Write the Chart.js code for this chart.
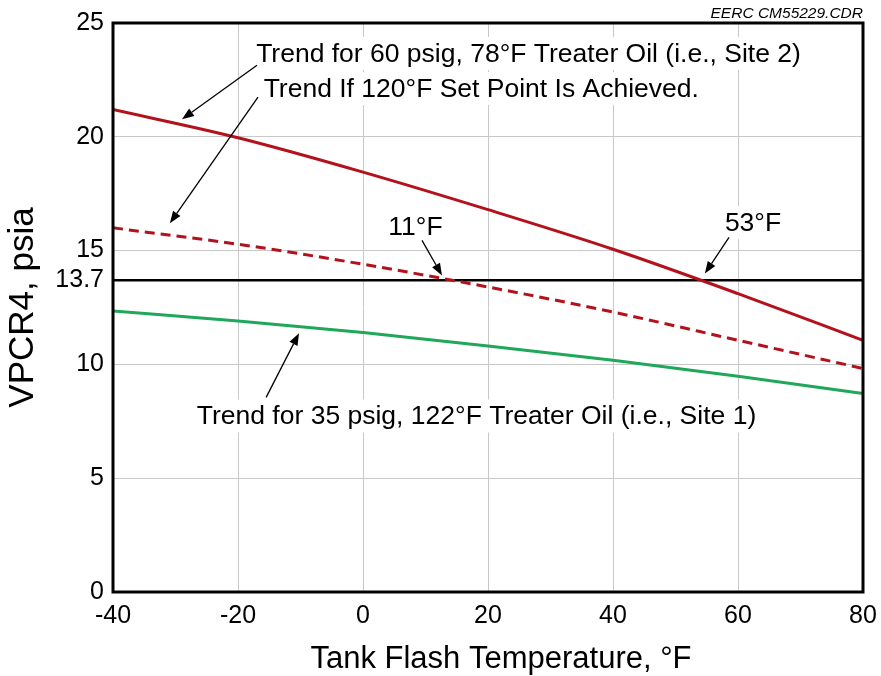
<!DOCTYPE html>
<html>
<head>
<meta charset="utf-8">
<script src="https://cdn.jsdelivr.net/npm/chart.js@4/dist/chart.umd.min.js"></script>
<style>
  html, body { margin: 0; padding: 0; background: #fff; }
</style>
</head>
<body>
<canvas id="myChart" width="881" height="676"></canvas>
<script>
// значения
const temps = [-40, -20, 0, 20, 40, 60, 80];
const site2 = [21.2, 19.96, 18.45, 16.8, 15.06, 13.11, 11.06];
const setPoint = [16.0, 15.28, 14.4, 13.4, 12.3, 11.06, 9.82];
const site1 = [12.35, 11.91, 11.4, 10.81, 10.18, 9.48, 8.72];
const limitValue = 13.7;
const yTicks = [0, 5, 10, 13.7, 15, 20, 25];

const FONT = "'Liberation Sans', Arial, sans-serif";
const xTitle = "Tank Flash Temperature, °F";

// подписи и стрелки в координатах данных
const notes = [
  { text: "Trend for 60 psig, 78°F Treater Oil (i.e., Site 2)", x: -17.1, y: 23.29 },
  { text: "Trend If 120°F Set Point Is Achieved.", x: -15.9, y: 21.75 },
  { text: "11°F", x: 4.05, y: 15.67 },
  { text: "53°F", x: 57.9, y: 15.86 },
  { text: "Trend for 35 psig, 122°F Treater Oil (i.e., Site 1)", x: -26.6, y: 7.36 },
];
const arrows = [
  { from: [-16.96, 23.14], to: [-28.96, 20.77] },
  { from: [-16.8, 21.74], to: [-30.9, 16.2] },
  { from: [9.44, 15.45], to: [12.64, 13.91] },
  { from: [58.56, 15.58], to: [54.7, 13.99] },
  { from: [-15.5, 8.55], to: [-10.24, 11.37] },
];

const toPoints = (ys) => temps.map((t, i) => ({ x: t, y: ys[i] }));

const notesPlugin = {
  id: "notes",
  beforeDatasetsDraw(chart) {
    // белые подложки под текстом
    const { ctx, scales } = chart;
    ctx.save();
    ctx.font = "26.5px " + FONT;
    ctx.fillStyle = "#fff";
    notes.forEach((n) => {
      const px = scales.x.getPixelForValue(n.x);
      const py = scales.y.getPixelForValue(n.y);
      const w = ctx.measureText(n.text).width;
      ctx.fillRect(px - 5, py - 25, w + 10, 33);
    });
    ctx.restore();
  },
  afterDatasetsDraw(chart) {
    const { ctx, scales } = chart;
    ctx.save();
    ctx.font = "26.5px " + FONT;
    ctx.fillStyle = "#000";
    ctx.textBaseline = "alphabetic";
    ctx.textAlign = "left";
    notes.forEach((n) => {
      ctx.fillText(n.text, scales.x.getPixelForValue(n.x), scales.y.getPixelForValue(n.y));
    });

    ctx.strokeStyle = "#000";
    ctx.lineWidth = 1.3;
    arrows.forEach((a) => {
      const x1 = scales.x.getPixelForValue(a.from[0]);
      const y1 = scales.y.getPixelForValue(a.from[1]);
      const x2 = scales.x.getPixelForValue(a.to[0]);
      const y2 = scales.y.getPixelForValue(a.to[1]);
      const ang = Math.atan2(y2 - y1, x2 - x1);
      const len = 12, half = 4.5;
      const bx = x2 - len * Math.cos(ang);
      const by = y2 - len * Math.sin(ang);
      ctx.beginPath();
      ctx.moveTo(x1, y1);
      ctx.lineTo(bx, by);
      ctx.stroke();
      ctx.beginPath();
      ctx.moveTo(x2, y2);
      ctx.lineTo(bx + half * Math.sin(ang), by - half * Math.cos(ang));
      ctx.lineTo(bx - half * Math.sin(ang), by + half * Math.cos(ang));
      ctx.closePath();
      ctx.fill();
    });
    ctx.restore();
  },
  afterDraw(chart) {
    const { ctx, chartArea } = chart;
    ctx.save();
    ctx.strokeStyle = "#000";
    ctx.lineWidth = 3;
    ctx.strokeRect(chartArea.left, chartArea.top, chartArea.right - chartArea.left, chartArea.bottom - chartArea.top);
    ctx.font = "italic 15.5px " + FONT;
    ctx.fillStyle = "#000";
    ctx.textAlign = "right";
    ctx.textBaseline = "alphabetic";
    ctx.fillText("EERC CM55229.CDR", chartArea.right, chartArea.top - 5);
    // подпись оси X (в оригинале чуть сдвинута вправо)
    ctx.font = "31px " + FONT;
    ctx.textAlign = "center";
    ctx.fillText(xTitle, (chartArea.left + chartArea.right) / 2 + 13, chartArea.bottom + 76);
    ctx.restore();
  },
};

const ctx = document.getElementById("myChart");

new Chart(ctx, {
  type: "line",
  data: {
    datasets: [
      {
        label: "Site 2",
        data: toPoints(site2),
        borderColor: "#b3121c",
        borderWidth: 3,
        pointRadius: 0,
        cubicInterpolationMode: "monotone",
      },
      {
        label: "Set point",
        data: toPoints(setPoint),
        borderColor: "#b3121c",
        borderWidth: 3,
        borderDash: [10, 6],
        pointRadius: 0,
        cubicInterpolationMode: "monotone",
      },
      {
        label: "Site 1",
        data: toPoints(site1),
        borderColor: "#1fa75a",
        borderWidth: 3,
        pointRadius: 0,
        cubicInterpolationMode: "monotone",
      },
      {
        label: "13.7",
        data: [
          { x: temps[0], y: limitValue },
          { x: temps[temps.length - 1], y: limitValue },
        ],
        borderColor: "#000",
        borderWidth: 2.5,
        pointRadius: 0,
      },
    ],
  },
  options: {
    responsive: false,
    animation: false,
    devicePixelRatio: 1,
    layout: { padding: { top: 23, right: 18, left: 0, bottom: 0 } },
    plugins: {
      legend: { display: false },
      tooltip: { enabled: false },
    },
    scales: {
      x: {
        type: "linear",
        min: -40,
        max: 80,
        ticks: {
          stepSize: 20,
          color: "#000",
          font: { family: FONT, size: 25 },
          padding: 9,
          maxRotation: 0,
        },
        grid: { color: "#c8c8c8", lineWidth: 1, drawTicks: false },
        border: { display: false },
        title: { display: false },
        afterFit: (s) => {
          s.height = 84;
          s.paddingLeft = 0;
          s.paddingRight = 0;
        },
      },
      y: {
        type: "linear",
        min: 0,
        max: 25,
        afterBuildTicks: (s) => { s.ticks = yTicks.map((v) => ({ value: v })); },
        ticks: {
          color: "#000",
          font: { family: FONT, size: 25 },
          padding: 9,
          callback: (v) => String(v),
        },
        grid: {
          color: (c) => (c.tick && [0, limitValue, 25].includes(c.tick.value) ? "rgba(0,0,0,0)" : "#c8c8c8"),
          lineWidth: 1,
          drawTicks: false,
        },
        border: { display: false },
        title: {
          display: true,
          text: "VPCR4, psia",
          color: "#000",
          font: { family: FONT, size: 35 },
          padding: { top: 2, bottom: 0 },
        },
        afterFit: (s) => {
          s.width = 113;
          s.paddingTop = 0;
          s.paddingBottom = 0;
        },
      },
    },
  },
  plugins: [notesPlugin],
});
</script>
</body>
</html>
